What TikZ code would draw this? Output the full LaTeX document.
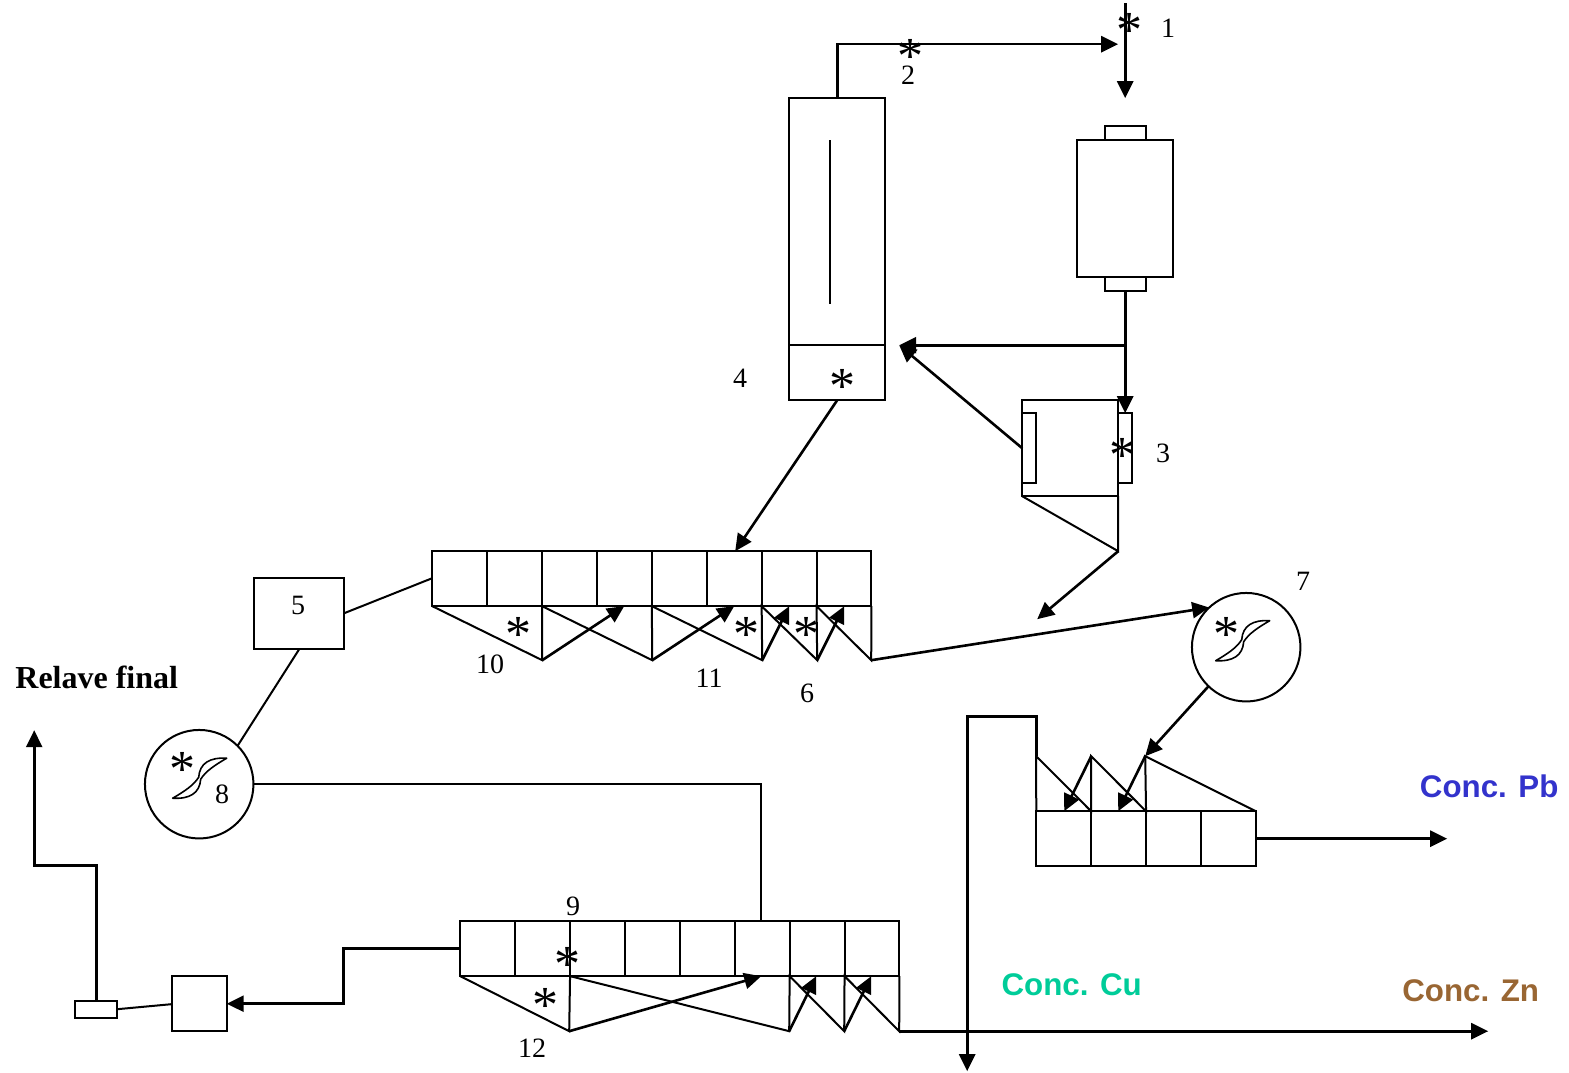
\documentclass[tikz,border=0pt]{standalone}
\usepackage{fontspec}
\setmainfont{Liberation Serif}
\setsansfont{Liberation Sans}
\usetikzlibrary{arrows.meta}
\definecolor{concpb}{RGB}{51,51,204}
\definecolor{conccu}{RGB}{0,204,153}
\definecolor{conczn}{RGB}{153,102,51}
\tikzset{
	unit/.style={draw,inner sep=0pt,outer sep=0pt,line width=2pt},
	cell/.style={unit,minimum size=54.9pt},
	tank/.style={unit,circle,minimum size=108.5pt},
	flow/.style={->,line width=2.6pt},
	link/.style={line width=2pt},
	num/.style={font=\fontsize{28}{30}\selectfont,inner sep=0pt},
	stir/.style={font=\fontsize{52}{52}\selectfont,inner sep=0pt,text height=.68em,text depth=-.27em,yshift=-20.5pt},
	conc/.style={font=\sffamily\bfseries\fontsize{31.3}{36}\selectfont,inner sep=0pt},
	impeller/.pic={\draw[line width=1.6pt,line join=round] (27,-20) .. controls (10,-21) and (0,-15) .. (-1,-1)
		.. controls (-6,7) and (-15,13) .. (-27,20) .. controls (-10,21) and (0,15) .. (1,1)
		.. controls (6,-7) and (15,-13) .. (27,-20) -- cycle;}
}

\begin{document}
\begin{tikzpicture}[x=1pt,y=-1pt,>={Triangle[length=17pt,width=16pt]},node distance=54.9pt]
	\useasboundingbox (-0.2,-0.2) rectangle (1568.8,1072.8);
	
	\node[unit,minimum width=96pt,minimum height=247pt](Column) at (837,221.5){};
	\node[unit,minimum width=96pt,minimum height=55pt](ColumnBase) at (837,372.5){};
	\node[unit,minimum width=96pt,minimum height=137pt](Mill) at (1125,208.5){};
	\node[unit,minimum width=41pt,minimum height=14pt](MillTop) at (1125,133){};
	\node[unit,minimum width=41pt,minimum height=14pt](MillBottom) at (1125,284){};
	\node[unit,minimum width=96pt,minimum height=96pt](Cond) at (1070,448){};
	\node[unit,minimum width=14pt,minimum height=70pt](CondLeft) at (1029,448){};
	\node[unit,minimum width=14pt,minimum height=70pt](CondRight) at (1125,448){};
	\node[unit,minimum width=90pt,minimum height=71pt](Box) at (299,613.5){};
	\node[tank](TankA) at (1246,647){};
	\node[tank](TankB) at (199,784){};
	\node[unit,minimum width=55pt,minimum height=55pt](Filter) at (199,1003.5){};
	\node[unit,minimum width=42pt,minimum height=17pt](Pump) at (96,1009.5){};
	
	\node[cell](R1) at (459.5,578.5){};
	\node[cell](R2)[right of=R1]{};
	\node[cell](R3)[right of=R2]{};
	\node[cell](R4)[right of=R3]{};
	\node[cell](R5)[right of=R4]{};
	\node[cell](R6)[right of=R5]{};
	\node[cell](R7)[right of=R6]{};
	\node[cell](R8)[right of=R7]{};
	
	\node[cell](S1) at (487.5,948.5){};
	\node[cell](S2)[right of=S1]{};
	\node[cell](S3)[right of=S2]{};
	\node[cell](S4)[right of=S3]{};
	\node[cell](S5)[right of=S4]{};
	\node[cell](S6)[right of=S5]{};
	\node[cell](S7)[right of=S6]{};
	\node[cell](S8)[right of=S7]{};
	
	\node[cell](T1) at (1063.5,838.5){};
	\node[cell](T2)[right of=T1]{};
	\node[cell](T3)[right of=T2]{};
	\node[cell](T4)[right of=T3]{};
	
	\coordinate (In) at (1125,3);
	\coordinate (MillIn) at (1125,98);
	\coordinate (Feed) at (1118,44);
	\coordinate (Split) at (1125,345);
	\coordinate (ColumnIn) at (899,345);
	\coordinate (CondIn) at (1125,413);
	\coordinate (CondOut) at (1118,551);
	\coordinate (CondEnd) at (1037,619);
	\coordinate (RougherIn) at (735,551);
	\coordinate (Pa) at (542,660);
	\coordinate (Pb) at (652,660);
	\coordinate (Pc) at (762,660);
	\coordinate (Pd) at (817,660);
	\coordinate (Pe) at (871,660);
	\coordinate (Ra) at (624,606);
	\coordinate (Rb) at (734,606);
	\coordinate (Rc) at (789,606);
	\coordinate (Rd) at (844,606);
	\coordinate (Qa) at (569,1031);
	\coordinate (Qb) at (789,1031);
	\coordinate (Qc) at (844,1031);
	\coordinate (Qd) at (899,1031);
	\coordinate (Sa) at (761,976);
	\coordinate (Sb) at (816,976);
	\coordinate (Sc) at (871,976);
	\coordinate (ZnEnd) at (1488,1031);
	\coordinate (Ta) at (1036,756);
	\coordinate (Tb) at (1091,756);
	\coordinate (Tc) at (1145,756);
	\coordinate (Ua) at (1064,811);
	\coordinate (Ub) at (1118,811);
	\coordinate (Up) at (1036,716);
	\coordinate (Down) at (967,1071);
	\coordinate (PbEnd) at (1447,838.5);
	\coordinate (Corner) at (34,865);
	\coordinate (Relave) at (34,730);
	\coordinate (MixTop) at (761,921);
	\coordinate (Back) at (343,948.5);
	\coordinate (Shaft) at (830,140);
	\coordinate (ShaftEnd) at (830,304);
	\coordinate (BoxEast) at (344,613);
	\coordinate (BoxFoot) at (299,649);
	\coordinate (RowWest) at (432,578);
	\coordinate (PumpEast) at (117,1009);
	\coordinate (FilterWest) at (171,1004);
	
	\draw[link] (Shaft) -- (ShaftEnd);
	\draw[flow] (In) -- (MillIn);
	\draw[flow] (Column.north) |- (Feed);
	\path (Split) edge [flow] (ColumnIn)
		  (CondLeft.west) edge [flow] (ColumnIn)
		  (MillBottom.south) edge [flow] (CondIn)
		  (CondOut) edge [flow] (CondEnd)
		  (ColumnBase.south) edge [flow] (RougherIn)
		  (Pa) edge [flow] (Ra)
		  (Pb) edge [flow] (Rb)
		  (Pc) edge [flow] (Rc)
		  (Pd) edge [flow] (Rd)
		  (Pe) edge [flow] (TankA.133)
		  (TankA.226) edge [flow] (Tc)
		  (Tb) edge [flow] (Ua)
		  (Tc) edge [flow] (Ub)
		  (T4.east) edge [flow] (PbEnd)
		  (Qa) edge [flow] (Sa)
		  (Qb) edge [flow] (Sb)
		  (Qc) edge [flow] (Sc)
		  (Qd) edge [flow] (ZnEnd);
	\draw[flow] (Ta) -- (Up) -| (Down);
	\draw[flow] (Pump.north) |- (Corner) -- (Relave);
	\draw[flow] (S1.west) -- (Back) |- (Filter.east);
	
	\draw[link] (Cond.south west) -- (CondOut) -- (Cond.south east);
	\draw[link] (R1.south west) -- (Pa) -- (R2.south east) -- (Pb) -- (R4.south east) -- (Pc)
		-- (R6.south east) -- (Pd) -- (R7.south east) -- (Pe) -- (R8.south east);
	\draw[link] (S1.south west) -- (Qa) -- (S2.south east) -- (Qb) -- (S6.south east) -- (Qc)
		-- (S7.south east) -- (Qd) -- (S8.south east);
	\draw[link] (T1.north west) -- (Ta) -- (T1.north east) -- (Tb) -- (T2.north east) -- (Tc) -- (T4.north east);
	\draw[link] (BoxEast) -- (RowWest);
	\draw[link] (BoxFoot) -- (TankB.45);
	\draw[link] (TankB.east) -| (MixTop);
	\draw[link] (FilterWest) -- (PumpEast);
	
	\pic (ImpA) at (1242.5,640.5) {impeller};
	\pic (ImpB) at (199.5,778) {impeller};
	
	\node[stir](s1) at (1129,23){*};
	\node[stir](s2) at (910,49){*};
	\node[stir](s3) at (1122,448){*};
	\node[stir](s4) at (842,379){*};
	\node[stir](s5) at (518,627){*};
	\node[stir](s6) at (746,627){*};
	\node[stir](s7) at (806,627){*};
	\node[stir](s8) at (1226,627){*};
	\node[stir](s9) at (182,762){*};
	\node[stir](s10) at (567,957){*};
	\node[stir](s11) at (545,998){*};
	
	\node[num](n1) at (1168,28.5){1};
	\node[num](n2) at (908,75.5){2};
	\node[num](n3) at (1163,453.5){3};
	\node[num](n4) at (740,378.5){4};
	\node[num](n5) at (298,605.5){5};
	\node[num](n6) at (807,693.5){6};
	\node[num](n7) at (1303,581.5){7};
	\node[num](n8) at (222,794.5){8};
	\node[num](n9) at (573,906.5){9};
	\node[num](n10) at (490,664.5){10};
	\node[num](n11) at (709,678.5){11};
	\node[num](n12) at (532,1048){12};
	
	\node[inner sep=0pt,anchor=west,font=\bfseries\fontsize{32}{34}\selectfont](final) at (15,677.5){Relave final};
	\node[conc,concpb](pb) at (1489,786.5){Conc. Pb};
	\node[conc,conccu](cu) at (1071.5,984.5){Conc. Cu};
	\node[conc,conczn](zn) at (1470.5,990.5){Conc. Zn};
\end{tikzpicture}
\end{document}
